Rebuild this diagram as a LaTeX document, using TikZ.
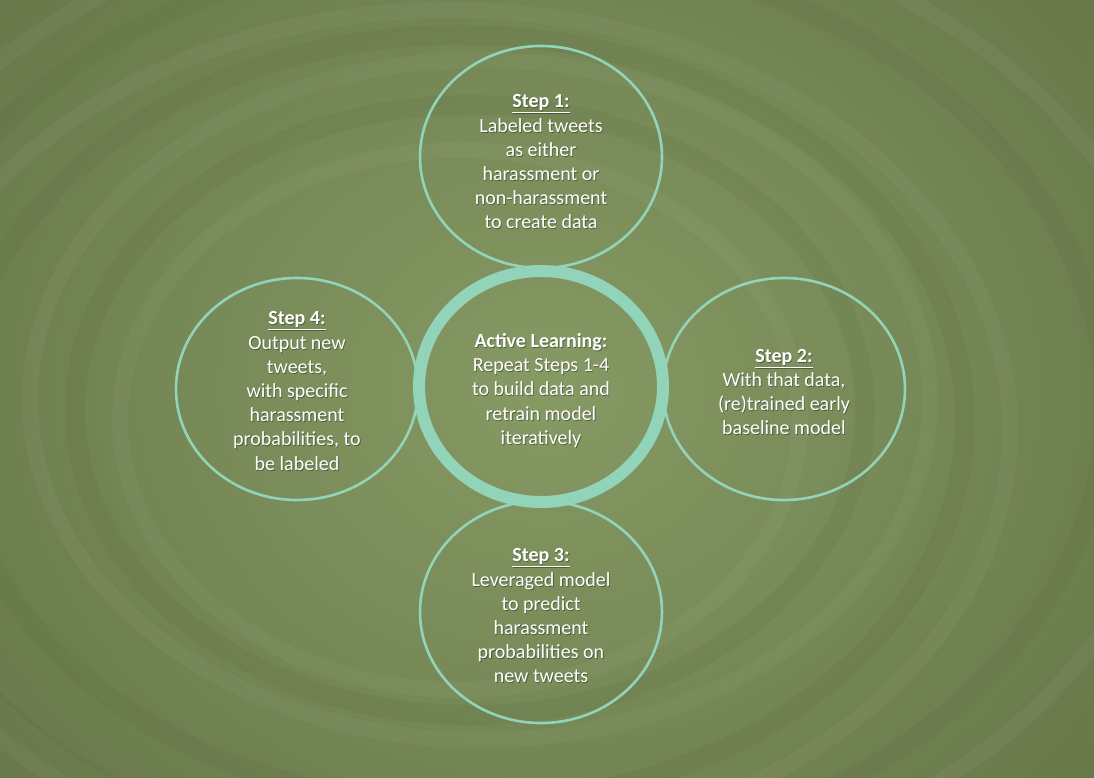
\documentclass[tikz,border=0pt]{standalone}
\usepackage{fontspec}
\setmainfont{Carlito}
\usetikzlibrary{shapes.geometric}
\definecolor{mint}{RGB}{146,212,186}
\definecolor{bgmid}{RGB}{126,144,90}
\definecolor{bglight}{RGB}{134,154,100}
\definecolor{bgdark}{RGB}{100,116,70}
\begin{document}
\begin{tikzpicture}[x=1pt,y=-1pt,
  stepcircle/.style={ellipse, draw=mint, line width=2.6pt, minimum width=242pt, minimum height=222pt, inner sep=0pt},
  ringcircle/.style={ellipse, draw=mint, line width=12pt, minimum width=244pt, minimum height=231pt, inner sep=0pt},
  lbl/.style={text=white, align=center, font=\fontsize{20}{24.2}\selectfont, inner sep=0pt},
  shd/.style={text=black, text opacity=0.35, align=center, font=\fontsize{20}{24.2}\selectfont, inner sep=0pt},
  swirl/.style={white, opacity=0.035, line width=16pt},
  swirldark/.style={black, opacity=0.03, line width=20pt}]
\useasboundingbox (0,0) rectangle (1094,778);
% background
\fill[bgmid] (0,0) rectangle (1094,778);
\shade[inner color=bglight, outer color=bgdark] (-250,-300) rectangle (1344,1078);
% faint swirls
\draw[swirl] (460,420) ellipse (340 and 270);
\draw[swirl] (480,400) ellipse (450 and 340);
\draw[swirl] (450,430) ellipse (560 and 420);
\draw[swirl] (500,400) ellipse (680 and 500);
\draw[swirldark] (470,410) ellipse (395 and 305);
\draw[swirldark] (460,420) ellipse (505 and 385);
\draw[swirldark] (490,405) ellipse (615 and 460);
% step circles
\node[stepcircle] (s1) at (541,157) {};
\node[stepcircle] (s2) at (784,389) {};
\node[stepcircle] (s3) at (541,612) {};
\node[stepcircle] (s4) at (297,389) {};
% center ring
\node[ringcircle] (c) at (541,386.5) {};
% texts (soft shadow, then white text)
\node[shd] at ([xshift=0.8pt,yshift=-6pt]s1) {\textbf{\underline{Step 1:}}\\Labeled tweets\\as either\\harassment or\\non-harassment\\to create data};
\node[lbl] (t1) at ([yshift=-5pt]s1) {\textbf{\underline{Step 1:}}\\Labeled tweets\\as either\\harassment or\\non-harassment\\to create data};
\node[shd] at ([xshift=0.8pt,yshift=-4pt]s2) {\textbf{\underline{Step 2:}}\\With that data,\\(re)trained early\\baseline model};
\node[lbl] (t2) at ([yshift=-3pt]s2) {\textbf{\underline{Step 2:}}\\With that data,\\(re)trained early\\baseline model};
\node[shd] at ([xshift=0.8pt,yshift=-5pt]s3) {\textbf{\underline{Step 3:}}\\Leveraged model\\to predict\\harassment\\probabilities on\\new tweets};
\node[lbl] (t3) at ([yshift=-4pt]s3) {\textbf{\underline{Step 3:}}\\Leveraged model\\to predict\\harassment\\probabilities on\\new tweets};
\node[shd] at ([xshift=0.8pt,yshift=-3pt]s4) {\textbf{\underline{Step 4:}}\\Output new\\tweets,\\with specific\\harassment\\probabilities, to\\be labeled};
\node[lbl] (t4) at ([yshift=-2pt]s4) {\textbf{\underline{Step 4:}}\\Output new\\tweets,\\with specific\\harassment\\probabilities, to\\be labeled};
\node[shd] at ([xshift=0.8pt,yshift=-5pt]c) {\textbf{Active Learning:}\\Repeat Steps 1-4\\to build data and\\retrain model\\iteratively};
\node[lbl] (tc) at ([yshift=-4pt]c) {\textbf{Active Learning:}\\Repeat Steps 1-4\\to build data and\\retrain model\\iteratively};
\end{tikzpicture}
\end{document}
